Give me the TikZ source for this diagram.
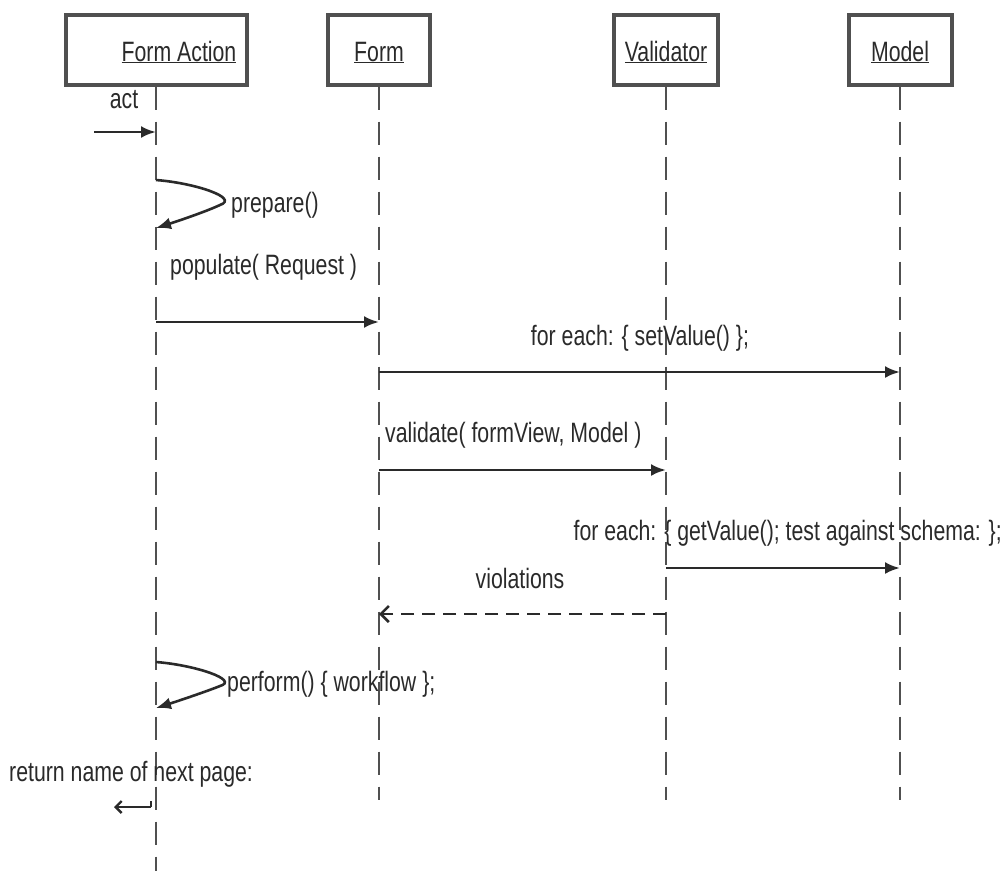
\documentclass[tikz,border=0pt]{standalone}
\usepackage{fontspec}
\usepackage{graphicx}
\setmainfont{Liberation Sans}
\usetikzlibrary{arrows.meta}
\definecolor{ink}{HTML}{2A2A2A}
\definecolor{rule}{HTML}{505050}
\newcommand\nar[1]{\scalebox{0.76}[1]{#1}}
\newcommand\uname[1]{\nar{\underline{#1}}}
\tikzset{
  obj/.style={draw=rule, line width=3.2pt, rectangle, minimum height=70pt, inner sep=0pt, text=ink},
  life/.style={draw=rule, line width=2.6pt, dash pattern=on 23pt off 12pt},
  msg/.style={draw=ink, line width=2.8pt, -{Latex[length=15pt,width=12pt]}},
  self/.style={draw=ink, line width=2.6pt, -{Latex[length=15pt,width=12pt]}},
  ret/.style={draw=ink, line width=2.6pt, dash pattern=on 13pt off 8pt, -{Straight Barb[length=8pt,width=16pt]}},
  lbl/.style={text=ink, inner sep=0pt, font=\fontsize{28}{30}\selectfont},
}
\begin{document}
\begin{tikzpicture}[x=1pt, y=-1pt]
\useasboundingbox (0,0) rectangle (1008,871);
\fill[white] (0,0) rectangle (1008,871);

% participants
\node[obj, minimum width=181pt] (fa) at (156.5,50) {};
\node[lbl, anchor=base] (faname) at (179,61) {\uname{Form Action}};
\node[obj, minimum width=102pt] (fm) at (379,50) {};
\node[lbl, anchor=base] (fmname) at (379,61) {\uname{Form}};
\node[obj, minimum width=104pt] (va) at (666,50) {};
\node[lbl, anchor=base] (vaname) at (666,61) {\uname{Validator}};
\node[obj, minimum width=103pt] (mo) at (900.5,50) {};
\node[lbl, anchor=base] (moname) at (900,61) {\uname{Model}};

% lifeline ends
\coordinate (faend) at (156,871);
\coordinate (fmend) at (379,800);
\coordinate (vaend) at (666,800);
\coordinate (moend) at (900,800);
\draw[life] (fa.south -| faend) -- (faend);
\draw[life] (fm.south -| fmend) -- (fmend);
\draw[life] (va.south -| vaend) -- (vaend);
\draw[life] (mo.south -| moend) -- (moend);

% act
\coordinate (actin) at (94,132);
\coordinate (fa1) at (156,132);
\draw[msg] (actin) -- (fa1);
\node[lbl, anchor=base] (actlbl) at (124,108) {\nar{act}};

% prepare()
\coordinate (fa2) at (156,180);
\coordinate (fa3) at (156,228);
\draw[self] (fa2) .. controls (195,183) and (240,198) .. (220,205)
               .. controls (205,212) and (175,222) .. (fa3);
\node[lbl, anchor=west] (preplbl) at (231,205) {\nar{prepare()}};

% populate( Request )
\coordinate (fa4) at (156,322);
\coordinate (fm1) at (379,322);
\draw[msg] (fa4) -- (fm1);
\node[lbl, anchor=base west] (poplbl) at (170,274) {\nar{populate( Request )}};

% for each: { setValue() };
\coordinate (fm2) at (379,372);
\coordinate (mo1) at (900,372);
\draw[msg] (fm2) -- (mo1);
\node[lbl, anchor=base] (setlbl) at (640,345) {\nar{for each: \{ setValue() \};}};

% validate( formView, Model )
\coordinate (fm3) at (379,470);
\coordinate (va1) at (666,470);
\draw[msg] (fm3) -- (va1);
\node[lbl, anchor=base west] (vallbl) at (385,442) {\nar{validate( formView, Model )}};

% for each: { getValue(); test against schema: };
\coordinate (va2) at (666,568);
\coordinate (mo2) at (900,568);
\draw[msg] (va2) -- (mo2);
\node[lbl, anchor=base east] (getlbl) at (1002,540) {\nar{for each: \{ getValue(); test against schema: \};}};

% violations
\coordinate (va3) at (666,614);
\coordinate (fm4) at (379,614);
\draw[ret] (va3) -- (fm4);
\node[lbl, anchor=base] (violbl) at (520,588) {\nar{violations}};

% perform() { workflow };
\coordinate (fa5) at (156,662);
\coordinate (fa6) at (156,708);
\draw[self] (fa5) .. controls (195,665) and (240,680) .. (220,686)
               .. controls (205,692) and (175,702) .. (fa6);
\node[lbl, anchor=west] (perflbl) at (227,684) {\nar{perform() \{ workflow \};}};

% return name of next page:
\node[lbl, anchor=base west] (retlbl) at (9,781) {\nar{return name of next page:}};
\coordinate (fa7) at (151,807);
\coordinate (retout) at (114,807);
\draw[draw=ink, line width=2pt] (fa7) ++(0,-6) -- (fa7);
\draw[draw=ink, line width=2.4pt, -{Straight Barb[length=6pt,width=12pt]}] (fa7) -- (retout);
\end{tikzpicture}
\end{document}
